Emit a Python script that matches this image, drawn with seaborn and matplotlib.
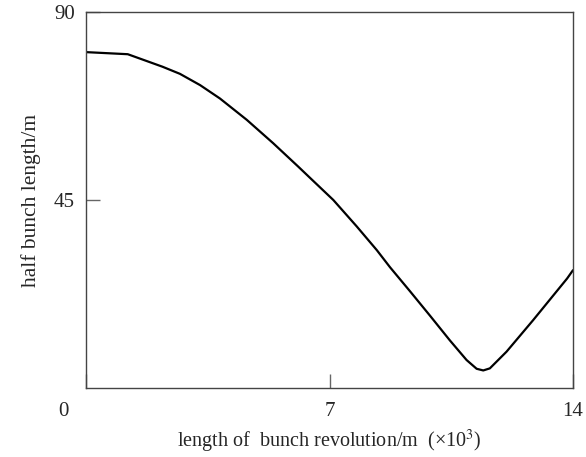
import pandas as pd
import numpy as np
import matplotlib
matplotlib.use("Agg")
import matplotlib.pyplot as plt
import seaborn as sns

# Data
revolution = [0.0, 1.2, 2.2, 2.7, 3.28, 3.85, 4.62, 5.38, 6.1, 6.44, 7.11, 7.78, 8.36, 8.74,
              9.31, 9.89, 10.46, 10.94, 11.23, 11.42, 11.61, 12.09, 12.85, 13.83, 14.0]
half_length = [80.4, 79.9, 76.9, 75.2, 72.5, 69.3, 64.2, 58.6, 53.0, 50.3, 45.0, 38.7, 33.0, 28.9,
               23.2, 17.3, 11.4, 6.7, 4.6, 4.2, 4.7, 8.7, 16.2, 26.2, 28.2]
x_ticks = [0, 7, 14]
x_labels = ["", "7", "14"]
y_ticks = [45, 90]

df = pd.DataFrame({"x": revolution, "y": half_length})

# Settings
sns.set_style("ticks")
plt.rcParams["font.family"] = ["Liberation Serif", "DejaVu Serif"]
plt.rcParams["mathtext.fontset"] = "stix"

fig, ax = plt.subplots(figsize=(5.86, 4.57), dpi=100)
fig.subplots_adjust(left=0.1468, right=0.9778, top=0.9737, bottom=0.151)

sns.lineplot(data=df, x="x", y="y", ax=ax, color="black", linewidth=1.6)

ax.set_xlim(0, 14)
ax.set_ylim(0, 90)
ax.set_xticks(x_ticks)
ax.set_xticklabels(x_labels)
ax.set_yticks(y_ticks)
ax.tick_params(direction="in", length=10, width=1, color="#666666", labelsize=15)
ax.tick_params(axis="x", pad=10)
ax.tick_params(axis="y", pad=8)

# origin label sits left of the corner, under the y labels
ax.annotate("0", xy=(0, 0), xycoords="axes fraction", xytext=(-16, -17),
            textcoords="offset points", ha="center", va="center", fontsize=15)

for s in ax.spines.values():
    s.set_color("#444444")
    s.set_linewidth(1)

ax.set_xlabel("length of  bunch revolution/m  (×10$^3$)", fontsize=14.5, labelpad=5)
ax.set_ylabel("half bunch length/m", fontsize=15.5, labelpad=9)

plt.savefig("out.png", dpi=100)
